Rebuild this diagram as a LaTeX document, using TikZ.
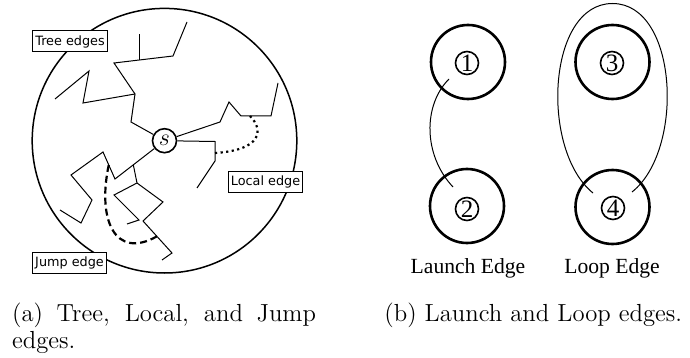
\documentclass[tikz,border=0pt]{standalone}
\usepackage{fontspec}
\newfontfamily\dejavu{DejaVu Sans}
\newfontfamily\libserif{Liberation Serif}
\usetikzlibrary{calc}
\begin{document}
\begin{tikzpicture}[x=0.5pt,y=-0.5pt,
  tree/.style={line width=0.5pt, line join=miter},
  lbl/.style={draw, fill=white, line width=0.5pt, font=\dejavu\fontsize{6.4}{7}\selectfont, inner xsep=1.4pt, inner ysep=0pt, minimum height=10.5pt},
  bigc/.style={circle, draw, line width=1.3pt, minimum size=37pt, inner sep=0pt},
  numc/.style={circle, draw, line width=0.8pt, minimum size=11.5pt, inner sep=0pt, font=\libserif\fontsize{12.5}{13}\selectfont},
  thinline/.style={line width=0.5pt},
  capfont/.style={font=\fontsize{12.35}{14}\selectfont, inner sep=0pt, anchor=base west},
  edgelbl/.style={font=\libserif\fontsize{10.8}{13}\selectfont, inner sep=0pt, anchor=base},
  ]
\useasboundingbox (0,0) rectangle (690,358);

% ---------- left figure ----------
\node[circle, draw, line width=0.75pt, minimum size=132.3pt, inner sep=0pt] (world) at (164.5,140.7) {};

\node[circle, draw, line width=0.8pt, minimum size=12pt, inner sep=0pt, fill=white] (s) at (164.5,140.7) {\fontsize{12.5}{14}\selectfont$s$};

% upper-left branch
\draw[tree] (s) -- (131,122) -- (135,94) -- (114,63) -- (173,56) -- (187,22);
\draw[tree] (139,60) -- (139,34);
\draw[tree] (135,94) -- (83,103) -- (89,71) -- (55,99);
% right-up branch
\draw[tree] (s) -- (220,122) -- (229,102) -- (241,116) -- (271,116) -- (278,83);
% right branch
\draw[tree] (s) -- (215,141.5) -- (215,161) -- (197,188);
% lower-left branch
\draw[tree] (s) -- (115,179) -- (103,152) -- (71,175) -- (92,200) -- (81,223) -- (60,210);
\coordinate (e0) at ($(s)!0.63!(115,179)$);
\draw[tree] (e0) -- (137,183) -- (114,195) -- (139,220) -- (127,224);
\draw[tree] (137,183) -- (163,202) -- (143,221) -- (172,253) -- (162,260);

% jump edge
\coordinate (j1) at ($(103,152)!0.48!(115,179)$);
\coordinate (j2) at ($(143,221)!0.48!(172,253)$);
\draw[line width=1.1pt, dash pattern=on 3.5pt off 2pt] (j1) .. controls (97,220) and (115,260) .. (j2);

% local edge
\coordinate (d1) at (250,116);
\coordinate (d2) at (215,153);
\draw[line width=1.1pt, dash pattern=on 1.1pt off 1.7pt] (d1) .. controls (264,130) and (262,150) .. (d2);

% labels
\node[lbl] (tl) at (70,41.5) {Tree edges};
\node[lbl] (ll) at (265.5,182) {Local edge};
\node[lbl] (jl) at (69.5,262.5) {Jump edge};

% ---------- right figure ----------
\node[bigc] (c1) at (468,62) {};
\node[bigc] (c2) at (467,206) {};
\node[bigc] (c3) at (612.5,62) {};
\node[bigc] (c4) at (612.5,207) {};
\node[numc] (n1) at (467,63) {1};
\node[numc] (n2) at (467,209) {2};
\node[numc] (n3) at (612,63) {3};
\node[numc] (n4) at (613,208) {4};

\draw[thinline] ($(n1)+(-18,16)$) .. controls (423,105) and (423,155) .. ($(n2)+(-14,-22)$);
\draw[thinline] ($(n4)+(-20,-15)$) .. controls (540,150) and (547,3.5) .. (612.5,3.5)
                .. controls (678,3.5) and (685,150) .. ($(n4)+(19,-16)$);

\node[edgelbl] (le) at (468,273) {Launch Edge};
\node[edgelbl] (pe) at (612,273) {Loop Edge};

% ---------- captions ----------
\node[capfont] (capa1) at (11.7,321) {\makebox[152pt][s]{(a) Tree, Local, and Jump}};
\node[capfont] (capa2) at (11.7,348) {edges.};
\node[capfont] (capb) at (384,321) {(b) Launch and Loop edges.};
\end{tikzpicture}
\end{document}
